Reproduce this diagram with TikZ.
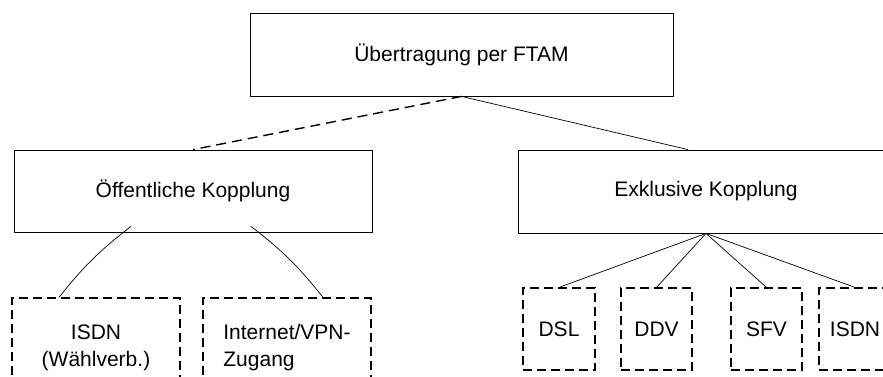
\documentclass[tikz,border=0pt]{standalone}
\usepackage{fontspec}
\setmainfont{Liberation Sans}
\usetikzlibrary{calc,positioning}

\begin{document}
\begin{tikzpicture}[x=1pt,y=-1pt,font=\fontsize{21}{27}\selectfont,
    box/.style={draw,line width=.8pt,inner sep=0pt},
    dbox/.style={draw,dash pattern=on 9pt off 5pt,line width=1.2pt,inner sep=0pt,align=center},
    link/.style={line width=.7pt}]
    \useasboundingbox (0,0) rectangle (883,376);
    \clip (0,0) rectangle (883,376);

    \node[box,minimum width=423pt,minimum height=83pt] (ftam) at (461.5,54.5) {Übertragung per FTAM};

    \node[box,minimum width=358pt,minimum height=82pt] (pub) at (193,191) {Öffentliche Kopplung};
    \node[box,minimum width=376pt,minimum height=83pt] (excl) at (706,191.5) {Exklusive Kopplung};

    \node[dbox,minimum width=168pt,minimum height=100pt] (isdnw) at (96,348) {ISDN\\(Wählverb.)};
    \node[dbox,align=left,minimum width=168pt,minimum height=100pt] (vpn) at (287,348) {Internet/VPN-\\Zugang};

    \node[dbox,minimum width=72pt,minimum height=82pt] (dsl) at (559,329) {DSL};
    \node[dbox,minimum width=71pt,minimum height=82pt] (ddv) at (656.5,329) {DDV};
    \node[dbox,minimum width=71pt,minimum height=82pt] (sfv) at (766.5,329) {SFV};
    \node[dbox,minimum width=72pt,minimum height=82pt] (isdn) at (855,329) {ISDN};

    \draw[link,dash pattern=on 10pt off 6pt,line width=1.4pt] (ftam.south) -- (pub.north);
    \draw[link] (ftam.south) -- ([xshift=-18pt]excl.north);

    \draw[link] ([shift={(-62pt,6pt)}]pub.south) to[bend right=7] ([xshift=-37pt]isdnw.north);
    \draw[link] ([shift={(58pt,6pt)}]pub.south) to[bend left=7] ([xshift=36pt]vpn.north);

    \draw[link] (excl.south) -- (dsl.north);
    \draw[link] (excl.south) -- (ddv.north);
    \draw[link] (excl.south) -- (sfv.north);
    \draw[link] (excl.south) -- (isdn.north);
\end{tikzpicture}
\end{document}
